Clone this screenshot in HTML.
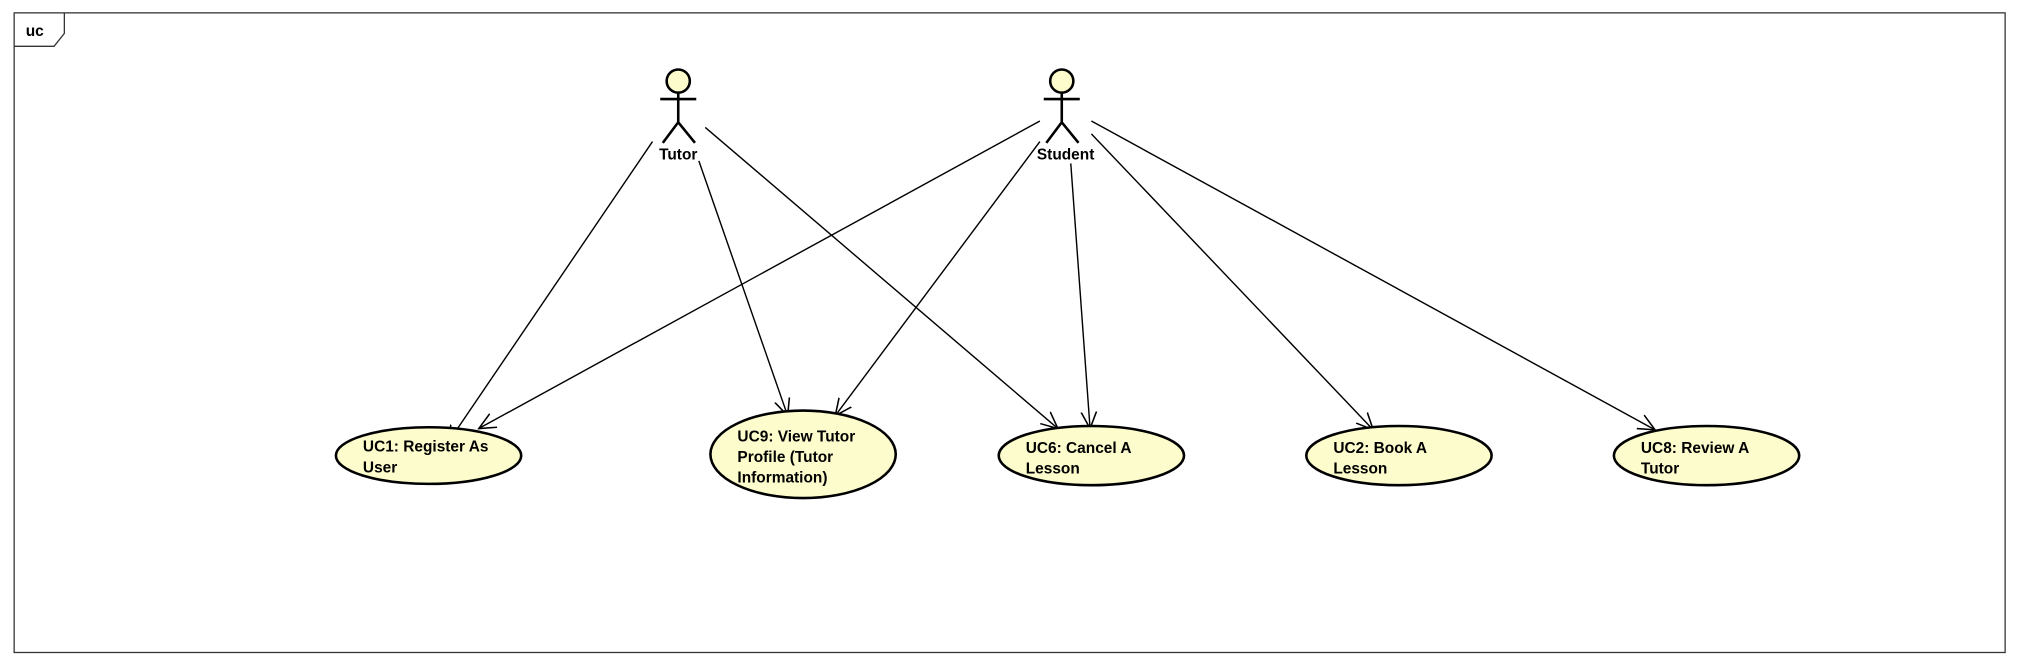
<!DOCTYPE html>
<html><head><meta charset="utf-8"><style>
html,body{margin:0;padding:0;background:#fff;}
svg{display:block;}
text{font-family:"Liberation Sans",Arial,sans-serif;font-size:12px;font-weight:bold;fill:#000;}
</style></head><body>
<svg width="2018" height="666" viewBox="0 0 1568 517.5" preserveAspectRatio="none" xmlns="http://www.w3.org/2000/svg">
<defs>
<marker id="a" viewBox="0 0 14 14" refX="13" refY="7" markerWidth="14" markerHeight="14" markerUnits="userSpaceOnUse" orient="auto">
<path d="M0,1 L13,7 L0,13" fill="none" stroke="#000" stroke-width="1.2"/>
</marker>
</defs>
<rect x="11" y="10" width="1547" height="497" fill="#fff" stroke="#333" stroke-width="1"/>
<path d="M11,36 L42,36 L50,26 L50,10" fill="none" stroke="#333" stroke-width="1"/>
<text x="20" y="28">uc</text>

<g stroke="#000" stroke-width="1.1" fill="none" marker-end="url(#a)">
<line x1="507" y1="110" x2="348" y2="344"/>
<line x1="543" y1="125" x2="612" y2="323"/>
<line x1="548" y1="99" x2="822" y2="333"/>
<line x1="808" y1="94" x2="372" y2="333"/>
<line x1="808" y1="110" x2="649" y2="323"/>
<line x1="832" y1="127" x2="847" y2="333"/>
<line x1="848" y1="104" x2="1067" y2="334"/>
<line x1="848" y1="94" x2="1286" y2="334"/>
</g>

<g stroke="#000" stroke-width="2" fill="#fcfccc">
<circle cx="527" cy="63" r="9"/>
<circle cx="825" cy="63" r="9"/>
</g>
<g stroke="#000" stroke-width="2" fill="none">
<path d="M527,72 V95 M513,77 H541 M527,95 L515,111 M527,95 L540,111"/>
<path d="M825,72 V95 M811,77 H839 M825,95 L813,111 M825,95 L838,111"/>
</g>
<text x="527" y="124" text-anchor="middle">Tutor</text>
<text x="828" y="124" text-anchor="middle">Student</text>

<g stroke="#000" stroke-width="2" fill="#fcfccc">
<ellipse cx="333" cy="354" rx="72" ry="22"/>
<ellipse cx="624" cy="353" rx="72" ry="34"/>
<ellipse cx="848" cy="354" rx="72" ry="23"/>
<ellipse cx="1087" cy="354" rx="72" ry="23"/>
<ellipse cx="1326" cy="354" rx="72" ry="23"/>
</g>
<text x="282" y="351">UC1: Register As</text><text x="282" y="367">User</text>
<text x="573" y="343">UC9: View Tutor</text><text x="573" y="359">Profile (Tutor</text><text x="573" y="375">Information)</text>
<text x="797" y="352">UC6: Cancel A</text><text x="797" y="368">Lesson</text>
<text x="1036" y="352">UC2: Book A</text><text x="1036" y="368">Lesson</text>
<text x="1275" y="352">UC8: Review A</text><text x="1275" y="368">Tutor</text>
</svg>
</body></html>
